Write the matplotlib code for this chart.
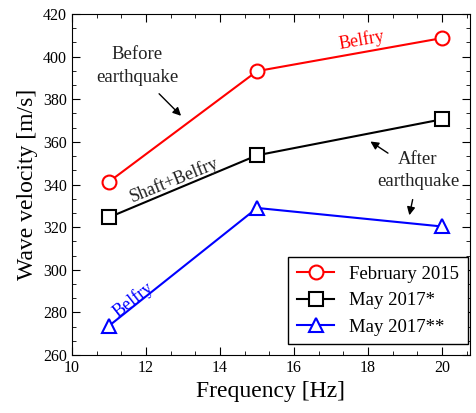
import matplotlib
matplotlib.use("Agg")
import matplotlib.pyplot as plt
from matplotlib.ticker import MultipleLocator

plt.rcParams["font.family"] = ["Liberation Serif", "DejaVu Serif"]
plt.rcParams["mathtext.fontset"] = "stix"

# ── Data ──────────────────────────────────────────────────────────────────────
freq = [11, 15, 20]
feb_2015 = [341.3, 393.2, 408.7]
may_2017_a = [324.6, 353.7, 370.6]
may_2017_b = [273.7, 329.0, 320.3]

series_labels = ["February 2015", "May 2017*", "May 2017**"]

# ── Plot ──────────────────────────────────────────────────────────────────────
fig = plt.figure(figsize=(4.77, 4.13), dpi=100)
ax = fig.add_axes([0.151, 0.1404, 0.834, 0.8257])

common = dict(lw=1.5, markersize=10, markerfacecolor="white", markeredgewidth=1.5)
ax.plot(freq, feb_2015, color="#ff0000", marker="o", label=series_labels[0], **common)
ax.plot(freq, may_2017_a, color="black", marker="s", label=series_labels[1], **common)
ax.plot(freq, may_2017_b, color="#0000ff", marker="^", label=series_labels[2], **common)

ax.set_xlim(10, 20.75)
ax.set_ylim(260, 420)
ax.xaxis.set_major_locator(MultipleLocator(2))
ax.xaxis.set_minor_locator(MultipleLocator(2 / 3))
ax.yaxis.set_major_locator(MultipleLocator(20))
ax.yaxis.set_minor_locator(MultipleLocator(20 / 3))
ax.tick_params(which="both", direction="in", top=True, right=True, labelsize=11.5)
ax.tick_params(which="major", length=6)
ax.tick_params(which="minor", length=3)

ax.set_xlabel("Frequency [Hz]", fontsize=17)
ax.set_ylabel("Wave velocity [m/s]", fontsize=17)

# curve labels
ax.text(17.84, 407.8, "Belfry", color="#ff0000", fontsize=13, rotation=10,
        ha="center", va="center")
ax.text(12.76, 342.3, "Shaft+Belfry", color="#222222", fontsize=13, rotation=22,
        ha="center", va="center")
ax.text(11.65, 285.8, "Belfry", color="#0000ff", fontsize=13, rotation=38,
        ha="center", va="center")

arrow = dict(arrowstyle="-|>", color="black", lw=1, mutation_scale=12)
ax.text(11.76, 395.5, "Before\nearthquake", fontsize=13.5, ha="center", va="center",
        color="#222222", linespacing=1.45)
ax.annotate("", xy=(13.0, 371.3), xytext=(12.3, 383.5), arrowprops=arrow)

ax.text(19.35, 346.6, "After\nearthquake", fontsize=13.5, ha="center", va="center",
        color="#222222", linespacing=1.45)
ax.annotate("", xy=(18.0, 360.9), xytext=(18.6, 354.0), arrowprops=arrow)
ax.annotate("", xy=(19.1, 324.3), xytext=(19.22, 334.2), arrowprops=arrow)

leg = ax.legend(loc="lower right", fontsize=13.5, fancybox=False, framealpha=1,
                edgecolor="black", handlelength=2.0, borderpad=0.45,
                labelspacing=0.5, borderaxespad=0,
                bbox_to_anchor=(0.995, 0.032))
leg.get_frame().set_linewidth(1)

fig.savefig("out.png", dpi=100)
